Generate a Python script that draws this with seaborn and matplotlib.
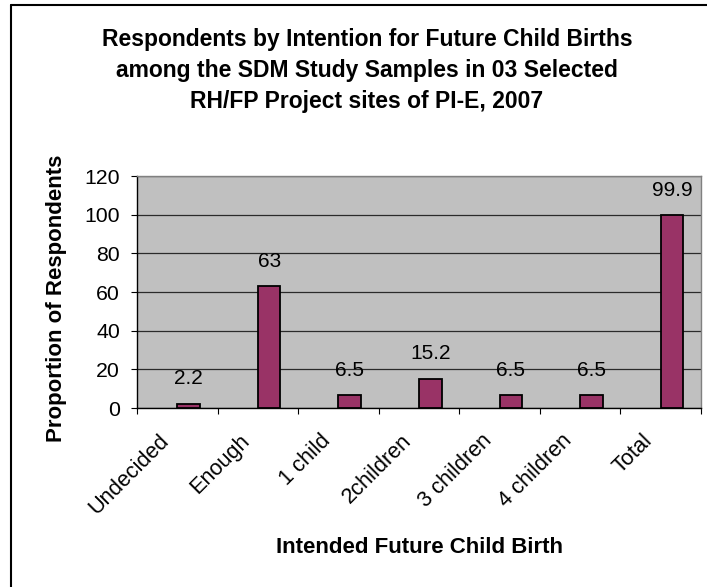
import numpy as np
import pandas as pd
import matplotlib
matplotlib.use("Agg")
import matplotlib.pyplot as plt
import seaborn as sns
from matplotlib.lines import Line2D

# ---- data ----
categories = ["Undecided", "Enough", "1 child", "2children", "3 children", "4 children", "Total"]
values = [2.2, 63, 6.5, 15.2, 6.5, 6.5, 99.9]
value_labels = ["2.2", "63", "6.5", "15.2", "6.5", "6.5", "99.9"]
y_ticks = [0, 20, 40, 60, 80, 100, 120]
title_lines = [
    "Respondents by Intention for Future Child Births",
    "among the SDM Study Samples in 03 Selected",
    "RH/FP Project sites of PI-E, 2007",
]
x_label = "Intended Future Child Birth"
y_label = "Proportion of Respondents"

# ---- style ----
sns.set_theme(style="white")
plt.rcParams["font.family"] = ["Liberation Sans", "DejaVu Sans"]
plt.rcParams["text.color"] = "black"

W, H = 707, 587
fig = plt.figure(figsize=(W / 100, H / 100), dpi=100)
fig.patch.set_facecolor("white")

left, right, top, bottom = 137, 701, 176, 408
ax = fig.add_axes([left / W, 1 - bottom / H, (right - left) / W, (bottom - top) / H])

df = pd.DataFrame({"cat": categories, "val": values})
sns.barplot(data=df, x="cat", y="val", order=categories, color="#993366",
            saturation=1, width=0.28, edgecolor="black", linewidth=1.3,
            ax=ax, zorder=3)

ax.set_facecolor("#C0C0C0")
ax.set_ylim(0, 120)
ax.set_yticks(y_ticks)
ax.set_axisbelow(True)
ax.yaxis.grid(True, color="#2a2a2a", linewidth=0.9)
ax.xaxis.grid(False)

n = len(categories)
offset = 0.14
ax.set_xlim(-0.5 - offset, n - 0.5 - offset)
boundaries = np.arange(n + 1) - 0.5 - offset
ax.set_xticks(np.arange(n) - 0.37)
ax.set_xticklabels(categories)
ax.set_xticks(boundaries, minor=True)
ax.tick_params(axis="x", which="major", bottom=True, length=0, pad=16,
               labelsize=15.7, labelcolor="black")
ax.tick_params(axis="x", which="minor", bottom=True, length=4.3, width=0.8,
               color="black", direction="out")
for lab in ax.get_xticklabels():
    lab.set_rotation(45)
    lab.set_ha("right")
    lab.set_va("top")
    lab.set_rotation_mode("anchor")

ax.tick_params(axis="y", which="major", left=True, length=4.3, width=0.8,
               color="black", direction="out", pad=8, labelsize=15.3,
               labelcolor="black")

ax.set_xlabel("")
ax.set_ylabel("")

for side in ["left", "bottom"]:
    ax.spines[side].set_color("black")
    ax.spines[side].set_linewidth(1.0)
for side in ["top", "right"]:
    ax.spines[side].set_color("#808080")
    ax.spines[side].set_linewidth(1.0)

ax.bar_label(ax.containers[0], labels=value_labels, padding=11,
             fontsize=15, color="black")

# axis titles
fig.text(419 / W, 1 - 553 / H, x_label, ha="center", va="baseline",
         fontsize=16, fontweight="bold", color="black")
fig.text(56.5 / W, 1 - 298 / H, y_label, ha="center", va="center",
         rotation=90, fontsize=16, fontweight="bold", color="black")

# chart title
for line, base in zip(title_lines, [46, 77, 108]):
    fig.text(367 / W, 1 - base / H, line, ha="center", va="baseline",
             fontsize=16.5, fontweight="bold", color="black")

# chart border (left and top visible; right/bottom cropped)
bx, by = 11 / W, 1 - 4.5 / H
fig.add_artist(Line2D([bx, bx], [0, by], transform=fig.transFigure,
                      color="black", linewidth=1.5))
fig.add_artist(Line2D([bx, 1], [by, by], transform=fig.transFigure,
                      color="black", linewidth=1.5))

fig.savefig("out.png", dpi=100)
